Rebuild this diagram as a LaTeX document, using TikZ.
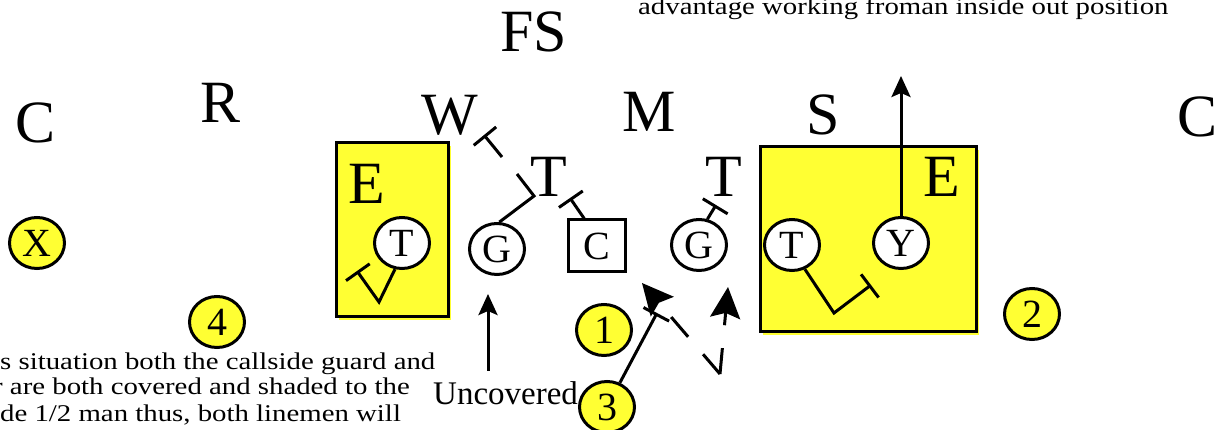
\documentclass[tikz,border=0pt]{standalone}
\usepackage{fontspec}
\setmainfont{Liberation Serif}
\usepackage{graphicx}
\usetikzlibrary{arrows.meta,shapes.geometric}
\definecolor{zoneyellow}{RGB}{255,255,51}

\begin{document}
\begin{tikzpicture}[x=1pt,y=-1pt,
  defender/.style={anchor=base,inner sep=0pt,font=\fontsize{60}{60}\selectfont},
  player/.style={draw,ellipse,line width=3pt,fill=white,minimum width=55pt,minimum height=51pt,inner sep=0pt,font=\fontsize{40}{40}\selectfont},
  holenum/.style={player,fill=zoneyellow},
  zone/.style={draw,line width=3pt,fill=zoneyellow},
  block/.style={line width=3pt,-{Bar[width=29pt]}},
  route/.style={line width=3pt,-{Stealth[length=21pt,width=19pt,inset=4pt]}},
  bigroute/.style={line width=3pt,dash pattern=on 26pt off 23pt,-{Stealth[length=31pt,width=30pt,inset=5pt]}},
  note/.style={anchor=base west,inner sep=0pt,font=\fontsize{24}{26}\selectfont}]

  \useasboundingbox (0,0) rectangle (1219,430);

  % zones
  \fill[zoneyellow] (339,146) rectangle (451,320);
  \draw[zone] (336,143) rectangle (448,317);
  \fill[zoneyellow] (763,150) rectangle (979,335);
  \draw[zone] (760,147) rectangle (976,332);

  % defense
  \node[defender] (fs)  at (534,52)  {FS};
  \node[defender] (cbl) at (36,143)  {C};
  \node[defender] (rov) at (221,123) {R};
  \node[defender] (wil) at (450,135) {W};
  \node[defender] (mik) at (649,132) {M};
  \node[defender] (sam) at (823,135) {S};
  \node[defender] (cbr) at (1197,137) {C};
  \node[defender] (tkm) at (549,197) {T};
  \node[defender] (tkr) at (724,197) {T};
  \node[defender] (enl) at (367,204) {E};
  \node[defender] (enr) at (942,197) {E};

  % offense
  \node[holenum] (xr) at (37,243) {X};
  \node[player] (tel) at (402,243) {T};
  \node[player] (grl) at (497,249) {G};
  \node[draw,line width=3pt,fill=white,minimum width=57pt,minimum height=52pt,inner sep=0pt,font=\fontsize{40}{40}\selectfont] (ctr) at (597,246) {C};
  \node[player] (grr) at (699,245) {G};
  \node[player] (ter) at (792,245) {T};
  \node[player] (ye)  at (901,243) {Y};

  % holes
  \node[anchor=base west,inner sep=0pt,font=\fontsize{33}{33}\selectfont] (unc) at (433,405) {Uncovered};
  \node[holenum] (n4) at (217,322)  {4};
  \node[holenum] (n2) at (1032,314) {2};
  \node[holenum] (n1) at (604,330)  {1};
  \node[holenum] (n3) at (607,407)  {3};

  % notes
  \node[note] (top) at (638,15) {\scalebox{1.2}[1]{advantage working froman inside out position}};
  \node[note] (ln1) at (0,370)  {\scalebox{1.2}[1]{s situation both the callside guard and}};
  \node[note] (ln2) at (-7,395) {\scalebox{1.2}[1]{r are both covered and shaded to the}};
  \node[note] (ln3) at (0,421)  {\scalebox{1.2}[1]{de 1/2 man thus, both linemen will}};

  % blocks
  \coordinate (tlv) at (379,302);
  \coordinate (tlb) at (357,271);
  \draw[block] (tel.-105) -- (tlv) -- (tlb);

  \coordinate (gmk) at (534,196);
  \coordinate (gme) at (517,174);
  \draw[line width=3pt] (grl.85) -- (gmk) -- (gme);
  \coordinate (wst) at (502,157);
  \coordinate (wbr) at (484,135);
  \draw[block] (wst) -- (wbr);

  \coordinate (cbk) at (570,198);
  \draw[block] (ctr.115) -- (cbk);

  \coordinate (grb) at (716,205);
  \draw[block] (grr.72) -- (grb);

  \coordinate (trv) at (834,313);
  \coordinate (trb) at (871,285);
  \draw[block] (ter.-62) -- (trv) -- (trb);

  \coordinate (n3b) at (657,313);
  \draw[block] (n3.62) -- (n3b);

  % routes
  \coordinate (ytip) at (901,76);
  \draw[route] (ye.north) -- (ytip);

  \coordinate (ubt) at (488,371);
  \coordinate (utp) at (488,294);
  \draw[route] (ubt) -- (utp);

  \coordinate (dv) at (720,374);
  \coordinate (dl) at (642,283);
  \coordinate (dr) at (728,287);
  \draw[bigroute] (dv) -- (dl);
  \draw[bigroute] (dv) -- (dr);
\end{tikzpicture}
\end{document}
